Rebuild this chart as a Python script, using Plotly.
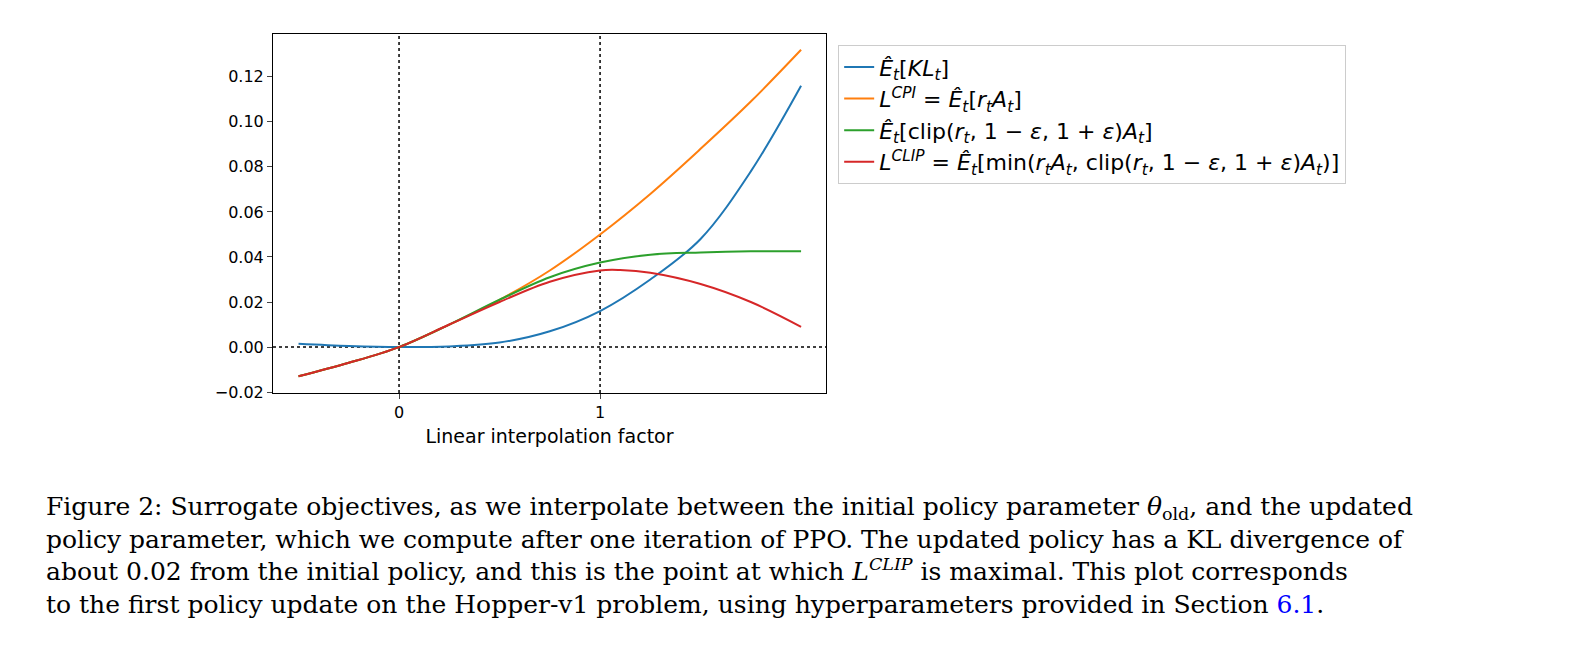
import plotly.graph_objects as go

# interpolation factor
x_kl = [-0.5, -0.25, 0.0, 0.25, 0.5, 0.75, 1.0, 1.25, 1.5, 1.75, 2.0]
kl = [0.0015, 0.0005, 0.0, 0.0003, 0.002, 0.007, 0.016, 0.03, 0.048, 0.078, 0.116]

x_cpi = [-0.5, -0.25, 0.0, 0.25, 0.5, 0.75, 1.0, 1.25, 1.5, 1.75, 2.0]
cpi = [-0.013, -0.007, 0.0, 0.01, 0.021, 0.034, 0.05, 0.068, 0.088, 0.109, 0.132]

x_clip = [-0.5, -0.25, 0.0, 0.25, 0.5, 0.75, 1.0, 1.25, 1.5, 1.75, 2.0]
clip = [-0.013, -0.007, 0.0, 0.01, 0.021, 0.031, 0.0375, 0.041, 0.042, 0.0425, 0.0425]

x_lclip = [-0.5, -0.25, 0.0, 0.25, 0.5, 0.75, 1.0, 1.1, 1.25, 1.5, 1.75, 2.0]
lclip = [-0.013, -0.007, 0.0, 0.01, 0.02, 0.029, 0.034, 0.0342, 0.033, 0.028, 0.02, 0.009]

names = [
    "<i>Ê<sub>t</sub></i>[<i>KL<sub>t</sub></i>]",
    "<i>L<sup>CPI</sup></i> = <i>Ê<sub>t</sub></i>[<i>r<sub>t</sub>A<sub>t</sub></i>]",
    "<i>Ê<sub>t</sub></i>[clip(<i>r<sub>t</sub></i>, 1 − <i>ε</i>, 1 + <i>ε</i>)<i>A<sub>t</sub></i>]",
    "<i>L<sup>CLIP</sup></i> = <i>Ê<sub>t</sub></i>[min(<i>r<sub>t</sub>A<sub>t</sub></i>, clip(<i>r<sub>t</sub></i>, 1 − <i>ε</i>, 1 + <i>ε</i>)<i>A<sub>t</sub></i>)]",
]
colors = ["#1f77b4", "#ff7f0e", "#2ca02c", "#d62728"]

fig = go.Figure()
for xs, ys, n, c in zip([x_kl, x_cpi, x_clip, x_lclip], [kl, cpi, clip, lclip], names, colors):
    fig.add_trace(go.Scatter(x=xs, y=ys, name=n, mode="lines",
                             line=dict(color=c, width=2, shape="spline")))

# dotted reference lines
for v in [0, 1]:
    fig.add_shape(type="line", xref="x", yref="paper", x0=v, x1=v, y0=0, y1=1,
                  line=dict(color="black", width=1.5, dash="dot"), layer="below")
fig.add_shape(type="line", xref="paper", yref="y", x0=0, x1=1, y0=0, y1=0,
              line=dict(color="black", width=1.5, dash="dot"), layer="below")

caption = ("Figure 2: Surrogate objectives, as we interpolate between the initial policy parameter <i>θ</i><sub>old</sub>, and the updated<br>"
           "policy parameter, which we compute after one iteration of PPO. The updated policy has a KL divergence of<br>"
           "about 0.02 from the initial policy, and this is the point at which <i>L<sup>CLIP</sup></i> is maximal. This plot corresponds<br>"
           "to the first policy update on the Hopper-v1 problem, using hyperparameters provided in Section <span style='color:blue'>6.1</span>.")
fig.add_annotation(text=caption, xref="paper", yref="paper", x=-0.415, y=-0.27,
                   xanchor="left", yanchor="top", align="left", showarrow=False,
                   font=dict(family="DejaVu Serif", size=25, color="black"))

fig.update_xaxes(range=[-0.627, 2.124], tickvals=[0, 1], ticktext=["0", "1"],
                 title=dict(text="Linear interpolation factor", font=dict(size=19), standoff=8),
                 showgrid=False, zeroline=False, showline=True, linecolor="black", mirror=True,
                 ticks="outside", ticklen=5)
fig.update_yaxes(range=[-0.0204, 0.139], tickvals=[-0.02, 0, 0.02, 0.04, 0.06, 0.08, 0.10, 0.12],
                 ticktext=["−0.02", "0.00", "0.02", "0.04", "0.06", "0.08", "0.10", "0.12"],
                 showgrid=False, zeroline=False, showline=True, linecolor="black", mirror=True,
                 ticks="outside", ticklen=5)

fig.update_layout(
    width=1576, height=662, plot_bgcolor="white", paper_bgcolor="white",
    margin=dict(l=265, r=758, t=26, b=277),
    font=dict(family="DejaVu Sans", size=16, color="black"),
    legend=dict(x=1.022, y=0.969, xanchor="left", yanchor="top", bordercolor="#cccccc",
                borderwidth=1, font=dict(size=22)),
)
fig.write_html("out.html")
